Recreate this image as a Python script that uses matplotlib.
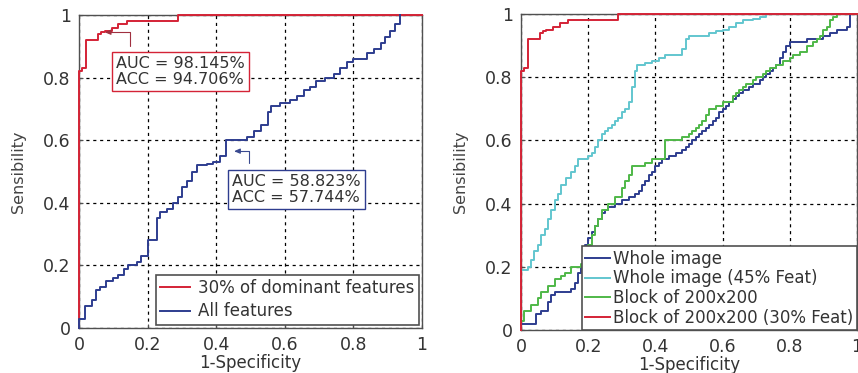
import matplotlib
matplotlib.use("Agg")
import matplotlib.pyplot as plt

plt.rcParams['font.family'] = ['DejaVu Sans']

# ---------------- data ----------------
ticks = [0, 0.2, 0.4, 0.6, 0.8, 1]
tick_labels = ["0", "0.2", "0.4", "0.6", "0.8", "1"]

# 30% dominant features / Block 200x200 (30% Feat)
red_fpr = [0, 0, 0.01, 0.02, 0.056, 0.065, 0.075, 0.095, 0.115, 0.14, 0.29, 0.43, 1.0]
red_tpr = [0, 0.82, 0.83, 0.92, 0.94, 0.945, 0.95, 0.96, 0.97, 0.98, 1.0, 1.0, 1.0]

# All features (left)
all_fpr = [0, 0, 0.018, 0.037, 0.05, 0.06, 0.08, 0.1, 0.115, 0.13, 0.144, 0.17, 0.18,
           0.2, 0.227, 0.236, 0.256, 0.275, 0.29, 0.3, 0.314, 0.33, 0.343, 0.373, 0.39,
           0.41, 0.43, 0.49, 0.51, 0.53, 0.55, 0.56, 0.587, 0.616, 0.635, 0.655, 0.674,
           0.69, 0.718, 0.742, 0.76, 0.78, 0.8, 0.84, 0.86, 0.88, 0.893, 0.907, 0.92, 0.935]
all_tpr = [0, 0.03, 0.07, 0.09, 0.12, 0.13, 0.15, 0.16, 0.17, 0.19, 0.20, 0.21, 0.23,
           0.28, 0.35, 0.37, 0.38, 0.40, 0.42, 0.45, 0.47, 0.50, 0.52, 0.525, 0.53,
           0.55, 0.60, 0.61, 0.63, 0.65, 0.69, 0.71, 0.72, 0.73, 0.74, 0.76, 0.77,
           0.79, 0.80, 0.81, 0.83, 0.85, 0.86, 0.88, 0.89, 0.91, 0.93, 0.95, 0.97, 1.0]

# Whole image (right)
whole_fpr = [0, 0.045, 0.06, 0.08, 0.09, 0.1, 0.15, 0.16, 0.17, 0.18, 0.19, 0.2, 0.21,
             0.22, 0.23, 0.24, 0.25, 0.26, 0.28, 0.30, 0.32, 0.34, 0.35, 0.36, 0.37,
             0.38, 0.39, 0.4, 0.41, 0.42, 0.44, 0.46, 0.48, 0.49, 0.50, 0.51, 0.52,
             0.53, 0.54, 0.55, 0.56, 0.57, 0.58, 0.59, 0.6, 0.61, 0.62, 0.63, 0.64,
             0.65, 0.66, 0.68, 0.69, 0.71, 0.72, 0.73, 0.74, 0.75, 0.76, 0.77, 0.78,
             0.79, 0.80, 0.85, 0.9, 0.92, 0.94, 0.97, 0.98, 1.0]
whole_tpr = [0.02, 0.05, 0.06, 0.09, 0.11, 0.12, 0.13, 0.15, 0.18, 0.2, 0.27, 0.29, 0.31,
             0.33, 0.35, 0.37, 0.38, 0.39, 0.40, 0.41, 0.42, 0.43, 0.44, 0.46, 0.47,
             0.49, 0.50, 0.52, 0.53, 0.54, 0.55, 0.56, 0.57, 0.58, 0.59, 0.60, 0.61,
             0.62, 0.63, 0.64, 0.65, 0.66, 0.67, 0.69, 0.70, 0.71, 0.72, 0.73, 0.74,
             0.75, 0.76, 0.77, 0.78, 0.79, 0.80, 0.81, 0.82, 0.83, 0.84, 0.86, 0.88,
             0.90, 0.91, 0.92, 0.93, 0.94, 0.95, 0.96, 1.0, 1.0]

# Whole image (45% Feat)
w45_fpr = [0, 0.02, 0.03, 0.04, 0.05, 0.06, 0.07, 0.08, 0.09, 0.1, 0.11, 0.12, 0.135,
           0.15, 0.16, 0.17, 0.2, 0.21, 0.22, 0.23, 0.24, 0.25, 0.26, 0.27, 0.28, 0.29,
           0.30, 0.31, 0.32, 0.33, 0.34, 0.345, 0.37, 0.39, 0.41, 0.43, 0.48, 0.49, 0.5,
           0.56, 0.58, 0.6, 0.62, 0.64, 0.66, 0.69, 0.71, 0.73, 1.0]
w45_tpr = [0.19, 0.2, 0.22, 0.25, 0.27, 0.30, 0.32, 0.35, 0.38, 0.41, 0.43, 0.46, 0.48,
           0.50, 0.52, 0.54, 0.55, 0.56, 0.58, 0.60, 0.62, 0.63, 0.64, 0.65, 0.66, 0.67,
           0.69, 0.70, 0.72, 0.77, 0.82, 0.84, 0.845, 0.85, 0.86, 0.87, 0.89, 0.92, 0.93,
           0.94, 0.945, 0.95, 0.96, 0.97, 0.98, 0.985, 0.99, 1.0, 1.0]

# Block of 200x200
blk_fpr = [0, 0.01, 0.03, 0.05, 0.06, 0.08, 0.1, 0.12, 0.13, 0.15, 0.18, 0.19, 0.2,
           0.21, 0.22, 0.23, 0.24, 0.26, 0.28, 0.3, 0.31, 0.32, 0.33, 0.35, 0.37, 0.39,
           0.43, 0.47, 0.48, 0.5, 0.51, 0.52, 0.53, 0.54, 0.55, 0.56, 0.58, 0.6, 0.63,
           0.64, 0.65, 0.66, 0.67, 0.69, 0.7, 0.72, 0.73, 0.74, 0.76, 0.78, 0.8, 0.81,
           0.83, 0.85, 0.87, 0.88, 0.89, 0.9, 0.91, 0.92, 0.93, 0.94, 1.0]
blk_tpr = [0.03, 0.06, 0.08, 0.10, 0.12, 0.14, 0.16, 0.17, 0.18, 0.20, 0.21, 0.23, 0.27,
           0.30, 0.33, 0.35, 0.38, 0.40, 0.42, 0.45, 0.47, 0.49, 0.52, 0.52, 0.53, 0.54,
           0.60, 0.60, 0.61, 0.62, 0.63, 0.64, 0.65, 0.66, 0.68, 0.70, 0.71, 0.72, 0.74,
           0.75, 0.76, 0.77, 0.78, 0.79, 0.80, 0.81, 0.82, 0.83, 0.84, 0.85, 0.86, 0.87,
           0.88, 0.90, 0.91, 0.92, 0.93, 0.95, 0.96, 0.98, 0.99, 1.0, 1.0]

left_labels = ["30% of dominant features", "All features"]
right_labels = ["Whole image", "Whole image (45% Feat)", "Block of 200x200",
                "Block of 200x200 (30% Feat)"]
ann_red = "AUC = 98.145%\nACC = 94.706%"
ann_blue = "AUC = 58.823%\nACC = 57.744%"

# ---------------- style ----------------
RED = "#d42336"
NAVY = "#2e3d8f"
CYAN = "#62c6cf"
GREEN = "#4fb848"
FRAME = "#505050"
LW = 1.4

W, H = 858, 373
fig = plt.figure(figsize=(W / 100, H / 100), dpi=100)
axL = fig.add_axes([79 / W, 45 / H, 343 / W, 313 / H])
axR = fig.add_axes([521 / W, 43 / H, 336 / W, 316 / H])


def style(ax):
    ax.set_xlim(0, 1)
    ax.set_ylim(0, 1)
    ax.set_xticks(ticks)
    ax.set_yticks(ticks)
    ax.set_xticklabels(tick_labels)
    ax.set_yticklabels(tick_labels)
    ax.tick_params(direction='in', length=3, width=0.8, labelsize=12.5,
                   colors=FRAME, labelcolor='#333333', pad=6)
    ax.grid(True, color='black', linestyle=(0, (2.5, 3)), linewidth=0.9)
    for s in ax.spines.values():
        s.set_color(FRAME)
        s.set_linewidth(1.0)
    ax.set_xlabel("1-Specificity", fontsize=12, color='#333333', labelpad=0)
    ax.set_ylabel("Sensibility", fontsize=11.5, color='#444444', labelpad=12)


def curve(ax, x, y, color, label):
    ax.step(x, y, where='post', color=color, lw=LW, label=label,
            zorder=3, clip_on=False)


# ---- left ----
style(axL)
curve(axL, red_fpr, red_tpr, RED, left_labels[0])
curve(axL, all_fpr, all_tpr, NAVY, left_labels[1])

axL.text(0.108, 0.82, ann_red, fontsize=11.5, ha='left', va='center', color='#333333',
         linespacing=1.05,
         bbox=dict(boxstyle='square,pad=0.25', fc='white', ec=RED, lw=1.0), zorder=5)
axL.annotate('', xy=(0.075, 0.945), xytext=(0.149, 0.90),
             arrowprops=dict(arrowstyle='-|>,head_length=0.35,head_width=0.15',
                             connectionstyle='angle,angleA=90,angleB=0,rad=0',
                             color='#a03040', lw=0.8, shrinkA=0, shrinkB=0), zorder=6)

axL.text(0.447, 0.442, ann_blue, fontsize=11.5, ha='left', va='center', color='#333333',
         linespacing=1.05,
         bbox=dict(boxstyle='square,pad=0.25', fc='white', ec=NAVY, lw=1.0), zorder=5)
axL.annotate('', xy=(0.452, 0.565), xytext=(0.497, 0.527),
             arrowprops=dict(arrowstyle='-|>,head_length=0.35,head_width=0.15',
                             connectionstyle='angle,angleA=90,angleB=0,rad=0',
                             color='#3a4a90', lw=0.8, shrinkA=0, shrinkB=0), zorder=6)

legL = axL.legend(loc='lower right', fontsize=12, frameon=True, fancybox=False,
                  edgecolor=FRAME, framealpha=1, borderpad=0.25, borderaxespad=0.2,
                  handlelength=1.8, handletextpad=0.5, labelspacing=0.35)
legL.get_frame().set_linewidth(1.2)
legL.set_zorder(10)
for t in legL.get_texts():
    t.set_color('#333333')

# ---- right ----
style(axR)
curve(axR, whole_fpr, whole_tpr, NAVY, right_labels[0])
curve(axR, w45_fpr, w45_tpr, CYAN, right_labels[1])
curve(axR, blk_fpr, blk_tpr, GREEN, right_labels[2])
curve(axR, red_fpr, red_tpr, RED, right_labels[3])

legR = axR.legend(loc='lower right', fontsize=12, frameon=True, fancybox=False,
                  edgecolor=FRAME, framealpha=1, borderpad=0.2, borderaxespad=0.0,
                  handlelength=1.5, handletextpad=0.2, labelspacing=0.1)
legR.get_frame().set_linewidth(1.2)
legR.set_zorder(10)
for t in legR.get_texts():
    t.set_color('#333333')

fig.savefig("out.png", dpi=100)
